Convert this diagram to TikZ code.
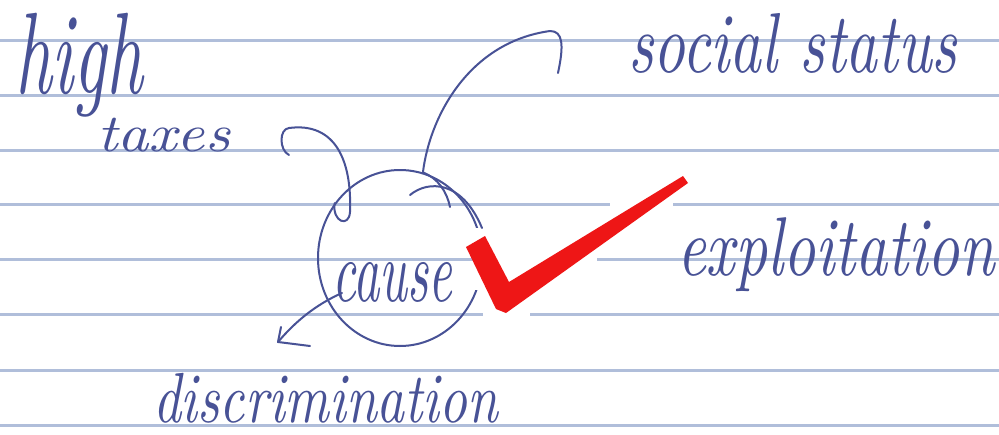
\documentclass[tikz,border=0pt]{standalone}
\usepackage{graphicx}
\usetikzlibrary{shapes.geometric}
\definecolor{ink}{RGB}{72,82,150}
\definecolor{rulecol}{RGB}{176,190,218}
\definecolor{tickred}{RGB}{238,22,22}
\tikzset{
  ruleline/.style={draw=rulecol, line width=3pt},
  pen/.style={draw=ink, line width=2pt, line cap=round, line join=round},
  hand/.style={inner sep=0pt, outer sep=0pt, anchor=north west, text=ink},
  erase/.style={fill=white, draw=none},
}
\newcommand{\hwtext}[3]{\resizebox*{#1pt}{#2pt}{\itshape #3}}
\begin{document}
\begin{tikzpicture}[x=1pt,y=-1pt]
\useasboundingbox (0,0) rectangle (999,434);
\fill[white] (0,0) rectangle (999,434);
% ruled lines
\foreach \yy in {40,95,150,204,259,314,370,425}
  \draw[ruleline] (0,\yy) -- (999,\yy);
% central circle
\node[ellipse, pen, minimum width=164pt, minimum height=176pt, inner sep=0pt] (cause) at (400,258) {};
% white patch behind the tick
\fill[erase] (476,228) rectangle (597,266);
\fill[erase] (473,266) rectangle (500,290);
\fill[erase] (610,198) rectangle (673,210);
\fill[erase] (483,308) rectangle (530,320);
% texts
\node[hand] (high) at (15,13) {\hwtext{128}{104}{high}};
\node[hand] (taxes) at (97,118) {\hwtext{133}{34}{taxes}};
\node[hand] (social) at (628,13) {\hwtext{329}{60}{social status}};
\node[hand] (exploit) at (677,218) {\hwtext{318}{74}{exploitation}};
\node[hand] (discr) at (153,373) {\hwtext{345}{50}{discrimination}};
\node[hand] (causetxt) at (332,262) {\hwtext{120}{40}{cause}};
% connector to social status
\coordinate (sstip) at (550,31);
\draw[pen] (cause.75) .. controls (430,115) and (470,42) .. (sstip)
  .. controls (563,31) and (564,45) .. (558,73);
\draw[pen] (cause.75) .. controls (438,178) and (447,192) .. (450,207);
\draw[pen] (410,195) .. controls (428,180) and (462,180) .. (482,228);
% connector to taxes
\coordinate (txtip) at (289,128);
\draw[pen] (cause.140) .. controls (332,222) and (349,228) .. (350,212)
  .. controls (352,160) and (335,122) .. (txtip)
  .. controls (279,129) and (279,150) .. (289,155);
% connector to discrimination
\coordinate (dstart) at (342,293);
\coordinate (dtip) at (278,342);
\draw[pen] (dstart) .. controls (315,305) and (295,322) .. (dtip);
\draw[pen] (281,327) -- (dtip) -- (310,346);
% red tick
\fill[tickred] (466,247) -- (485,236) -- (509,282) -- (683,176) -- (688,183)
  -- (506,313) -- (496,309) -- cycle;
\end{tikzpicture}
\end{document}
